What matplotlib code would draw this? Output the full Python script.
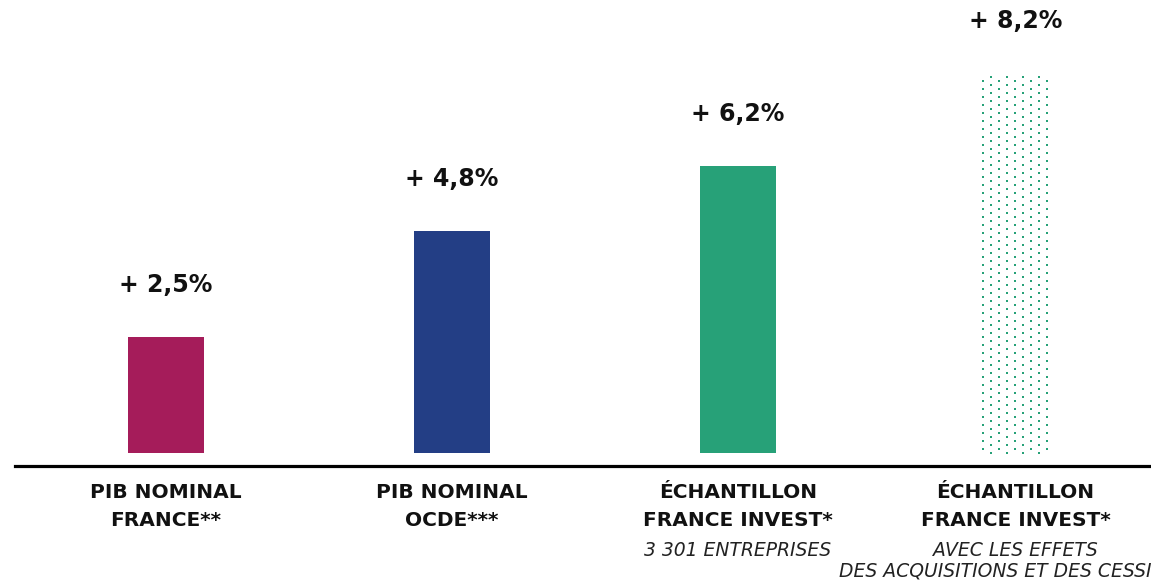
import matplotlib.pyplot as plt
import numpy as np
from matplotlib.transforms import IdentityTransform

# données
valeurs = [2.5, 4.8, 6.2, 8.2]
textes_valeurs = ["+ 2,5%", "+ 4,8%", "+ 6,2%", "+ 8,2%"]
lignes_gras = [["PIB NOMINAL", "FRANCE**"],
               ["PIB NOMINAL", "OCDE***"],
               ["ÉCHANTILLON", "FRANCE INVEST*"],
               ["ÉCHANTILLON", "FRANCE INVEST*"]]
lignes_italique = [[], [], ["3 301 ENTREPRISES"],
                   ["AVEC LES EFFETS", "DES ACQUISITIONS ET DES CESSIONS"]]
couleurs = ["#A51C5A", "#233E85", "#27A178", "#27A178"]

W, H, DPI = 1151, 583, 100
fig = plt.figure(figsize=(W / DPI, H / DPI), dpi=DPI)
ax = fig.add_axes([0, 0, 1, 1])
ax.set_axis_off()

px_x = 286.0   # pixels par catégorie
px_y = 46.3    # pixels par point de %
x0_px, y0_px = 166.0, 453.0
ax.set_xlim(-x0_px / px_x, (W - x0_px) / px_x)
ax.set_ylim(-(H - y0_px) / px_y, y0_px / px_y)

# la dernière colonne est un peu resserrée dans l'original
x = np.array([0, 1, 2, 2.97])
largeur = 76 / px_x

# barres pleines (les trois premières)
ax.bar(x[:3], valeurs[:3], width=largeur, color=couleurs[:3])

# barre pointillée (avec acquisitions / cessions)
barre = ax.bar(x[3:], valeurs[3:], width=largeur * 0.88, color="none")[0]
fig.canvas.draw()
(bx0, by0), (bx1, by1) = ax.transData.transform(
    [(barre.get_x(), 0), (barre.get_x() + barre.get_width(), barre.get_height())])
pts = []
for i, xx in enumerate(np.arange(bx0 + 1, bx1, 8)):
    decal = 0 if i % 2 else 4
    for yy in np.arange(by0 + decal, by1, 8):
        pts.append((xx, yy))
pts = np.array(pts)
ax.scatter(pts[:, 0], pts[:, 1], s=2.4, marker="s", color=couleurs[3],
           linewidths=0, transform=IdentityTransform())

# ligne de base
ax.axhline(-13 / px_y, xmin=15 / W, xmax=1, color="black", lw=2.3)

# valeurs au-dessus des barres
for xi, v, t in zip(x, valeurs, textes_valeurs):
    ax.annotate(t, (xi, v), xytext=(0, 52 * 0.72), textcoords="offset points",
                ha="center", va="center", fontsize=17, fontweight="bold",
                color="#111111")

# libellés des catégories
for xi, gras, ital in zip(x, lignes_gras, lignes_italique):
    dy = 40
    for ligne in gras:
        ax.annotate(ligne, (xi, 0), xytext=(0, -dy * 0.72), textcoords="offset points",
                    ha="center", va="center", fontsize=14.5, fontweight="bold",
                    color="#111111", annotation_clip=False)
        dy += 28
    for ligne in ital:
        ax.annotate(ligne, (xi, 0), xytext=(0, -(dy + 1) * 0.72), textcoords="offset points",
                    ha="center", va="center", fontsize=13.5, fontstyle="italic",
                    color="#222222", annotation_clip=False)
        dy += 21

fig.savefig("out.png", dpi=DPI)
